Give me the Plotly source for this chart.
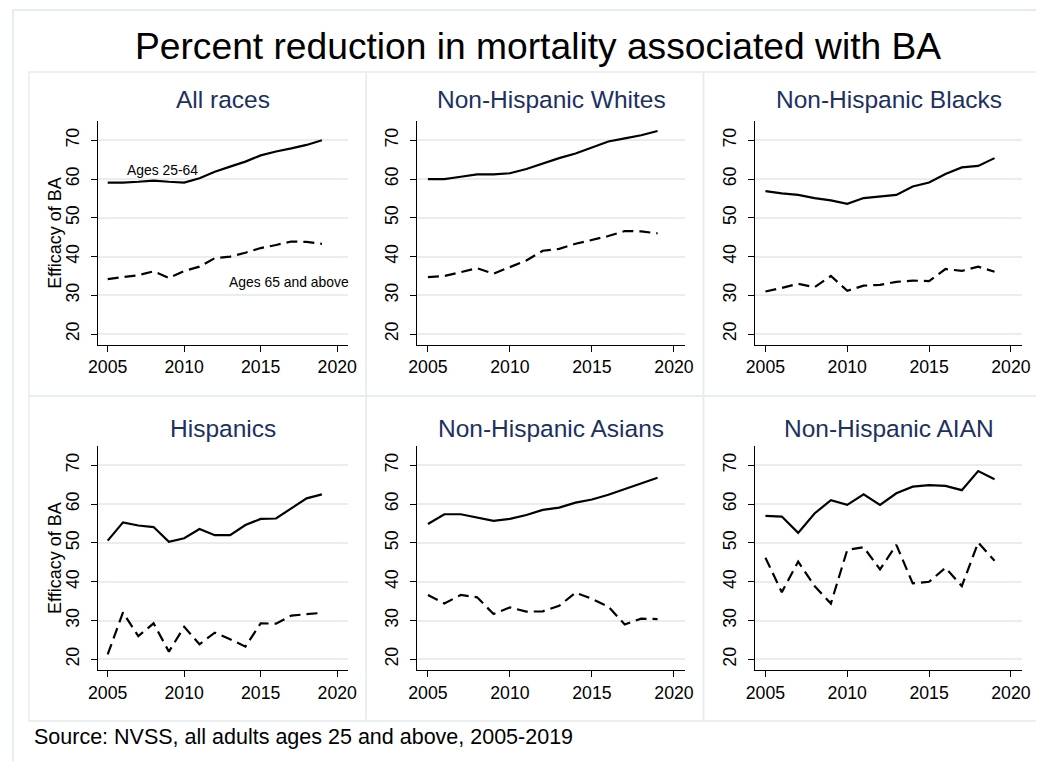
import plotly.graph_objects as go

# ---------------- data ----------------
years = list(range(2005, 2020))

panel_titles = ["All races", "Non-Hispanic Whites", "Non-Hispanic Blacks",
                "Hispanics", "Non-Hispanic Asians", "Non-Hispanic AIAN"]

all_25_64 = [59.1, 59.1, 59.3, 59.6, 59.3, 59.1, 60.2, 61.9, 63.2, 64.5, 66.1, 67.1, 67.9, 68.8, 70.0]
all_65p   = [34.2, 34.7, 35.2, 36.2, 34.5, 36.3, 37.4, 39.6, 40.0, 41.0, 42.2, 43.0, 43.9, 43.8, 43.3]

nhw_25_64 = [60.0, 60.0, 60.6, 61.2, 61.2, 61.5, 62.6, 64.1, 65.4, 66.6, 68.2, 69.7, 70.5, 71.3, 72.4]
nhw_65p   = [34.7, 35.0, 36.0, 37.0, 35.6, 37.3, 39.0, 41.5, 42.0, 43.3, 44.3, 45.3, 46.6, 46.5, 46.0]

nhb_25_64 = [56.9, 56.3, 55.9, 55.1, 54.5, 53.6, 55.1, 55.5, 55.9, 58.1, 59.1, 61.3, 63.0, 63.4, 65.4]
nhb_65p   = [31.0, 31.9, 33.0, 32.1, 35.0, 31.2, 32.5, 32.7, 33.5, 33.8, 33.7, 36.8, 36.3, 37.4, 36.1]

hisp_25_64 = [50.6, 55.3, 54.5, 54.1, 50.3, 51.2, 53.6, 52.0, 52.0, 54.6, 56.2, 56.3, 58.9, 61.5, 62.5]
hisp_65p   = [21.3, 32.1, 26.0, 29.3, 22.0, 28.4, 23.9, 26.9, 25.2, 23.3, 29.3, 29.2, 31.3, 31.6, 32.0]

asian_25_64 = [54.9, 57.4, 57.4, 56.5, 55.7, 56.2, 57.2, 58.5, 59.1, 60.4, 61.2, 62.4, 63.9, 65.2, 66.8]
asian_65p   = [36.6, 34.4, 36.6, 36.0, 31.7, 33.4, 32.3, 32.4, 33.8, 37.2, 35.6, 33.6, 29.0, 30.5, 30.4]

aian_25_64 = [57.0, 56.8, 52.6, 57.6, 61.0, 59.8, 62.5, 59.8, 62.8, 64.5, 64.9, 64.7, 63.6, 68.5, 66.4]
aian_65p   = [46.2, 37.3, 45.2, 38.9, 34.4, 48.2, 48.9, 43.2, 49.5, 39.6, 40.0, 43.6, 38.9, 50.1, 45.4]

young_series = [all_25_64, nhw_25_64, nhb_25_64, hisp_25_64, asian_25_64, aian_25_64]
old_series = [all_65p, nhw_65p, nhb_65p, hisp_65p, asian_65p, aian_65p]

y_ticks = [20, 30, 40, 50, 60, 70]
x_ticks = [2005, 2010, 2015, 2020]

main_title = "Percent reduction in mortality associated with BA"
y_title = "Efficacy of BA"
source_note = "Source: NVSS, all adults ages 25 and above, 2005-2019"
label_young = "Ages 25-64"
label_old = "Ages 65 and above"

# ---------------- layout geometry (page pixels) ----------------
PAGE_W, PAGE_H = 1044, 761
OFF = 8  # default body margin of the html page
W, H = PAGE_W - OFF, PAGE_H - OFF
# horizontal calibration of the rendered page
SX, BX = 0.981, 17.0
FONT = "Arial, Liberation Sans, sans-serif"
TITLE_COLOR = "#1c3160"
BORDER = "#e4edf0"
GRID = "#e6eef1"

col_px = [(96.7, 346.7), (416.0, 684.0), (753.3, 1020.7)]
row_px = [(120.7, 345.0), (445.7, 670.3)]
panel_box_x = [28, 365, 702, 1038]
panel_box_y = [72, 396, 721]


def px_x(p):
    return ((p - BX) / SX) / W


def px_y(p):
    return 1 - (p - OFF) / H


fig = go.Figure()
layout = dict(
    width=W, height=H,
    margin=dict(l=0, r=0, t=0, b=0),
    paper_bgcolor="white", plot_bgcolor="white",
    showlegend=False,
    font=dict(family=FONT, color="black"),
)

annotations = []
shapes = []

for i in range(6):
    r, c = divmod(i, 3)
    idx = "" if i == 0 else str(i + 1)
    xa = "x" + idx
    ya = "y" + idx
    x0, x1 = col_px[c]
    y0, y1 = row_px[r]
    layout["xaxis" + idx] = dict(
        domain=[px_x(x0), px_x(x1)], anchor=ya,
        range=[2004.35, 2020.7], tickvals=x_ticks,
        showline=True, linecolor="black", linewidth=1.2,
        ticks="outside", ticklen=6, tickcolor="black", tickwidth=1.2,
        showgrid=False, zeroline=False,
        tickfont=dict(size=17.7, family=FONT, color="black"),
    )
    layout["yaxis" + idx] = dict(
        domain=[px_y(y1), px_y(y0)], anchor=xa,
        range=[17.2, 75.05], tickvals=y_ticks,
        showline=True, linecolor="black", linewidth=1.2,
        ticks="outside", ticklen=6, tickcolor="black", tickwidth=1.2,
        showgrid=True, gridcolor=GRID, gridwidth=1.5, zeroline=False,
        tickangle=-90, ticklabelstandoff=5,
        tickfont=dict(size=17.7, family=FONT, color="black"),
    )
    fig.add_trace(go.Scatter(x=years, y=young_series[i], mode="lines",
                             line=dict(color="black", width=2.2),
                             xaxis=xa, yaxis=ya, hoverinfo="skip"))
    fig.add_trace(go.Scatter(x=years, y=old_series[i], mode="lines",
                             line=dict(color="black", width=2.2, dash="11px,6px"),
                             xaxis=xa, yaxis=ya, hoverinfo="skip"))
    # panel title
    annotations.append(dict(
        text=panel_titles[i], xref="paper", yref="paper",
        x=px_x((x0 + x1) / 2), y=px_y(99 if r == 0 else 429),
        xanchor="center", yanchor="middle", showarrow=False,
        font=dict(size=24.5, family=FONT, color=TITLE_COLOR),
    ))
    # panel box
    shapes.append(dict(type="rect", xref="paper", yref="paper",
                       x0=px_x(panel_box_x[c]), x1=px_x(panel_box_x[c + 1]),
                       y0=px_y(panel_box_y[r + 1]), y1=px_y(panel_box_y[r]),
                       line=dict(color=BORDER, width=1.5), layer="below"))
    if c == 0:
        annotations.append(dict(
            text=y_title, xref="paper", yref="paper",
            x=px_x(54), y=px_y((y0 + y1) / 2), textangle=-90,
            xanchor="center", yanchor="middle", showarrow=False,
            font=dict(size=18, family=FONT, color="black"),
        ))

# line labels in the first panel (data coordinates)
annotations.append(dict(text=label_young, xref="x", yref="y", x=2008.56, y=62.3,
                        showarrow=False, xanchor="center", yanchor="middle",
                        font=dict(size=13.9, family=FONT, color="black")))
annotations.append(dict(text=label_old, xref="x", yref="y", x=2016.85, y=33.4,
                        showarrow=False, xanchor="center", yanchor="middle",
                        font=dict(size=13.9, family=FONT, color="black")))

# main title and source
annotations.append(dict(text=main_title, xref="paper", yref="paper",
                        x=px_x(536.5), y=px_y(46), xanchor="center", yanchor="middle",
                        showarrow=False, font=dict(size=37.2, family=FONT, color="black")))
annotations.append(dict(text=source_note, xref="paper", yref="paper",
                        x=px_x(31), y=px_y(737), xanchor="left", yanchor="middle",
                        showarrow=False, font=dict(size=21.5, family=FONT, color="black")))

# outer border
shapes.append(dict(type="rect", xref="paper", yref="paper",
                   x0=px_x(12), x1=px_x(1070), y0=px_y(790), y1=px_y(10),
                   line=dict(color=BORDER, width=2), layer="below"))

layout["annotations"] = annotations
layout["shapes"] = shapes
fig.update_layout(**layout)
fig.write_html("out.html")
